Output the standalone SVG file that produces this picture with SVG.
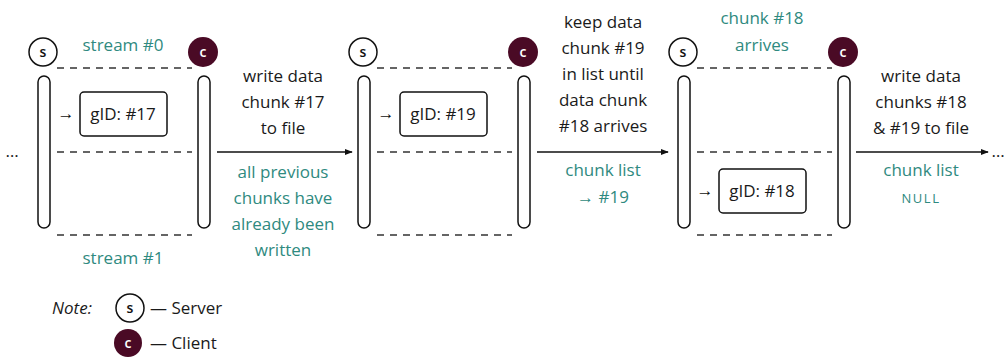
<svg xmlns="http://www.w3.org/2000/svg" width="1004" height="360" viewBox="0 0 1004 360">
<defs>
<style>
text{font-family:"Open Sans","Liberation Sans",sans-serif;font-size:17px;fill:#1a1a1a;text-anchor:middle}
.t{fill:#2f8a80}
.sc{font-size:13px;letter-spacing:1.5px}
.srv{fill:#fff;stroke:#111;stroke-width:1.5}
.cli{fill:#4a0a25;stroke:none}
.cl{fill:#fff;font-size:14px;font-weight:600}
.sl{fill:#111;font-size:14px;font-weight:600}
.cap{fill:#fff;stroke:#111;stroke-width:1.5}
.box{fill:#fff;stroke:#111;stroke-width:1.5}
.dash{stroke:#333;stroke-width:1.3;stroke-dasharray:7,6;fill:none}
.arr{stroke:#111;stroke-width:1.5;fill:none;marker-end:url(#ah)}
.ar{font-size:17px;fill:#111}
</style>
<marker id="ah" viewBox="0 0 10 10" refX="9" refY="5" markerWidth="8" markerHeight="8" markerUnits="userSpaceOnUse" orient="auto">
<path d="M0,1 L10,5 L0,9 Z" fill="#111"/>
</marker>
<g id="panel">
<line class="dash" x1="57" y1="68" x2="192" y2="68"/>
<line class="dash" x1="57" y1="152" x2="192" y2="152"/>
<line class="dash" x1="57" y1="235" x2="192" y2="235"/>
<rect class="cap" x="38" y="76" width="12" height="152" rx="6"/>
<rect class="cap" x="198" y="76" width="12" height="152" rx="6"/>
<circle class="srv" cx="43" cy="52" r="14"/>
<text class="sl" x="43" y="57">s</text>
<circle class="cli" cx="203" cy="52" r="15"/>
<text class="cl" x="203" y="57">c</text>
</g>
</defs>

<g id="panel1">
<use href="#panel"/>
<text class="t" x="123" y="51">stream #0</text>
<text class="t" x="123" y="264">stream #1</text>
<text class="ar" x="66" y="119">→</text>
<rect class="box" x="80" y="92" width="87" height="44" rx="4"/>
<text x="123" y="120">gID: #17</text>
</g>

<g id="panel2">
<use href="#panel" x="320"/>
<text class="ar" x="386" y="119">→</text>
<rect class="box" x="400" y="92" width="87" height="44" rx="4"/>
<text x="443" y="120">gID: #19</text>
</g>

<g id="panel3">
<use href="#panel" x="640"/>
<text class="t" x="762" y="24">chunk #18</text>
<text class="t" x="762" y="51">arrives</text>
<text class="ar" x="705" y="196">→</text>
<rect class="box" x="719" y="169" width="87" height="44" rx="4"/>
<text x="762" y="197">gID: #18</text>
</g>

<g id="connectors">
<line class="arr" x1="217" y1="152" x2="352" y2="152"/>
<line class="arr" x1="537" y1="152" x2="668" y2="152"/>
<line class="arr" x1="856" y1="152" x2="988" y2="152"/>
</g>

<g id="labels">
<text x="12" y="157">…</text>
<text x="998" y="157">…</text>
<text x="283" y="82">write data</text>
<text x="283" y="108">chunk #17</text>
<text x="283" y="134">to file</text>
<text class="t" x="283" y="178">all previous</text>
<text class="t" x="283" y="204">chunks have</text>
<text class="t" x="283" y="230">already been</text>
<text class="t" x="283" y="256">written</text>

<text x="603" y="28">keep data</text>
<text x="603" y="54">chunk #19</text>
<text x="603" y="80">in list until</text>
<text x="603" y="106">data chunk</text>
<text x="603" y="132">#18 arrives</text>
<text class="t" x="603" y="176">chunk list</text>
<text class="t" x="603" y="203">→ #19</text>

<text x="921" y="82">write data</text>
<text x="921" y="108">chunks #18</text>
<text x="921" y="134">&amp; #19 to file</text>
<text class="t" x="921" y="176">chunk list</text>
<text class="t sc" x="921" y="203">NULL</text>
</g>

<g id="legend">
<text x="72" y="314" style="font-style:italic">Note:</text>
<circle class="srv" cx="130" cy="308" r="14"/>
<text class="sl" x="130" y="313">s</text>
<text x="150" y="314" style="text-anchor:start">— Server</text>
<circle class="cli" cx="128" cy="343" r="14"/>
<text class="cl" x="128" y="348">c</text>
<text x="150" y="349" style="text-anchor:start">— Client</text>
</g>
</svg>
